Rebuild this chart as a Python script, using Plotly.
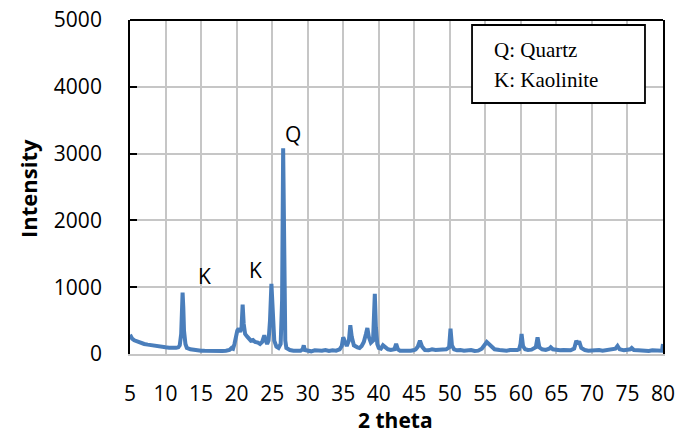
import plotly.graph_objects as go

two_theta = [
    5.0, 5.1, 5.3, 5.6, 6.0, 6.5, 7.0, 7.5, 8.0, 8.5, 9.0, 9.5, 10.0, 10.5, 11.0, 11.5, 11.8,
    12.0, 12.2, 12.3, 12.4, 12.5, 12.6, 12.8, 13.0, 13.5, 14.0, 14.5, 15.0, 15.5, 16.0, 16.5,
    17.0, 17.5, 18.0, 18.5, 19.0, 19.3, 19.5, 19.7, 19.9, 20.1, 20.3, 20.5, 20.7, 20.85, 21.0,
    21.2, 21.5, 21.8, 22.0, 22.3, 22.6, 23.0, 23.3, 23.6, 23.9, 24.1, 24.3, 24.5, 24.7, 24.9,
    25.1, 25.3, 25.6, 25.9, 26.2, 26.4, 26.55, 26.7, 26.85, 27.0, 27.5, 28.0, 28.5, 29.0, 29.3,
    29.45, 29.6, 30.0, 30.5, 31.0, 31.5, 32.0, 32.5, 33.0, 33.5, 34.0, 34.5, 34.8, 35.0, 35.2,
    35.5, 35.8, 36.0, 36.2, 36.5, 37.0, 37.3, 37.6, 37.9, 38.2, 38.4, 38.6, 38.9, 39.2, 39.35,
    39.45, 39.6, 39.8, 40.0, 40.3, 40.6, 40.9, 41.3, 41.7, 42.2, 42.45, 42.7, 43.0, 43.5, 44.0,
    44.5, 45.0, 45.2, 45.5, 45.8, 46.1, 46.5, 47.0, 47.5, 48.0, 48.5, 49.0, 49.5, 49.9, 50.1,
    50.3, 50.6, 51.0, 51.5, 52.0, 52.5, 53.0, 53.5, 54.0, 54.5, 54.9, 55.2, 55.5, 55.9, 56.3,
    57.0, 57.5, 58.0, 58.5, 59.0, 59.5, 59.75, 59.95, 60.1, 60.3, 60.6, 61.0, 61.5, 62.1, 62.35,
    62.6, 63.0, 63.5, 64.0, 64.2, 64.5, 65.0, 65.5, 66.0, 66.5, 67.0, 67.5, 67.8, 68.0, 68.2,
    68.5, 69.0, 69.5, 70.0, 70.5, 71.0, 71.5, 72.0, 72.5, 73.0, 73.3, 73.6, 73.9, 74.5, 75.0,
    75.4, 75.6, 75.9, 76.5, 77.0, 77.5, 78.0, 78.5, 79.0, 79.5, 79.8, 79.9, 80.0,
]
intensity = [
    290, 260, 230, 205, 185, 165, 150, 140, 130, 122, 115, 108, 100, 95, 90, 92, 100,
    130, 300, 600, 920, 700, 350, 150, 90, 70, 60, 55, 50, 48, 45, 42,
    45, 40, 45, 50, 60, 90, 80, 150, 300, 350, 380, 330, 400, 740, 450,
    300, 260, 230, 200, 210, 180, 170, 150, 180, 280, 200, 150, 200, 500, 1050,
    500, 200, 110, 90, 150, 800, 3080, 1200, 200, 90, 60, 50, 55, 50, 70,
    130, 60, 45, 40, 55, 45, 50, 60, 45, 55, 50, 70, 120, 250, 180,
    120, 200, 430, 260, 130, 100, 90, 120, 180, 300, 390, 260, 170, 200, 500,
    900, 400, 150, 90, 80, 130, 100, 70, 60, 70, 150, 70, 50, 45, 55,
    50, 60, 70, 110, 200, 110, 60, 55, 70, 60, 65, 55, 70, 100, 380,
    130, 70, 55, 60, 50, 55, 60, 45, 50, 80, 150, 180, 150, 100, 70,
    60, 55, 50, 60, 55, 60, 70, 150, 300, 120, 70, 60, 65, 100, 250,
    100, 70, 60, 80, 100, 70, 60, 55, 60, 50, 55, 80, 200, 150, 190,
    90, 60, 50, 55, 45, 60, 50, 55, 60, 70, 80, 120, 70, 55, 60,
    70, 90, 60, 55, 50, 60, 45, 55, 50, 45, 50, 80, 150,
]

x_ticks = list(range(5, 81, 5))
y_ticks = list(range(0, 5001, 1000))

peak_labels = ["K", "K", "Q"]
peak_label_x = [15.5, 22.6, 27.9]
peak_label_y = [1170, 1260, 3290]

legend_lines = ["Q: Quartz", "K: Kaolinite"]

fig = go.Figure()
fig.add_trace(go.Scatter(
    x=two_theta, y=intensity, mode="lines",
    line=dict(color="#4a7ebb", width=4),
    showlegend=False, hoverinfo="skip",
))

tick_font = dict(family="Open Sans, Arial, sans-serif", size=21, color="black")
grid_color = "#c6c6c6"

fig.update_xaxes(
    range=[5, 80], tickvals=x_ticks, ticktext=[str(v) for v in x_ticks],
    showgrid=True, gridcolor=grid_color, gridwidth=1.5,
    showline=True, linecolor=grid_color, linewidth=1.5,
    ticks="", tickfont=tick_font, ticklabelstandoff=20, zeroline=False,
    automargin=False,
)
fig.update_yaxes(
    range=[0, 5000], tickvals=y_ticks, ticktext=[str(v) for v in y_ticks],
    showgrid=True, gridcolor=grid_color, gridwidth=1.5,
    showline=True, linecolor="black", linewidth=1.8, mirror=True,
    ticks="inside", ticklen=7, tickcolor="black", tickwidth=1.5,
    tickfont=tick_font, ticklabelstandoff=22, zeroline=False,
    automargin=False,
)

# top border
fig.add_shape(type="line", xref="paper", yref="paper", x0=0, x1=1, y0=1, y1=1,
              line=dict(color="black", width=1.8))

for lab, lx, ly in zip(peak_labels, peak_label_x, peak_label_y):
    fig.add_annotation(x=lx, y=ly, text=lab, showarrow=False,
                       font=dict(family="Open Sans, Arial, sans-serif", size=21, color="black"))

# legend box
fig.add_shape(type="rect", xref="paper", yref="paper",
              x0=0.6417, x1=0.9662, y0=0.7515, y1=0.985,
              line=dict(color="black", width=1.8), fillcolor="white")
for txt, yy in zip(legend_lines, [0.910, 0.820]):
    fig.add_annotation(xref="paper", yref="paper", x=0.679, y=yy, text=txt,
                       showarrow=False, xanchor="left", yanchor="middle",
                       font=dict(family="Liberation Serif, Times New Roman, serif", size=21, color="black"))

title_font = dict(family="Open Sans, Arial, sans-serif", size=22, color="black")
fig.add_annotation(xref="paper", yref="paper", x=-0.1914, y=0.497, text="<b>Intensity</b>",
                   showarrow=False, textangle=-90, font=title_font,
                   xanchor="center", yanchor="middle")
fig.add_annotation(xref="paper", yref="paper", x=0.499, y=-0.1976, text="<b>2 theta</b>",
                   showarrow=False, font=dict(family="Open Sans, Arial, sans-serif", size=21, color="black"),
                   xanchor="center", yanchor="middle", borderpad=0)

fig.update_layout(
    width=678, height=437,
    margin=dict(l=130, r=15, t=20, b=83),
    paper_bgcolor="white", plot_bgcolor="white",
)

fig.write_html("out.html")
